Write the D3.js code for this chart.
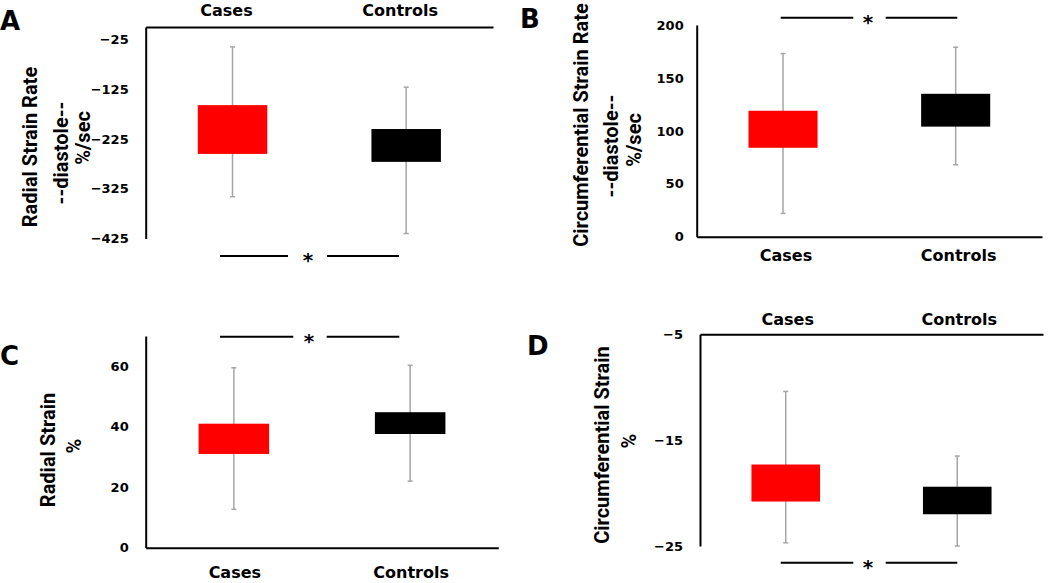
<!DOCTYPE html>
<html>
<head>
<meta charset="utf-8">
<script src="https://cdn.jsdelivr.net/npm/d3@7"></script>
<style>
    body { margin: 0; background: #fff; }
    svg { display: block; }
</style>
</head>
<body>
<div id="chart"></div>
<script>
const groups = ["Cases", "Controls"];

// A: radial strain rate, diastole (%/sec)
const radialRateBoxTop = [-157, -205];
const radialRateBoxBottom = [-255, -271];
const radialRateWhiskerTop = [-40, -121];
const radialRateWhiskerBottom = [-341, -415];
const radialRateTicks = [-25, -125, -225, -325, -425];

// B: circumferential strain rate, diastole (%/sec)
const circRateBoxTop = [119, 135];
const circRateBoxBottom = [84, 104];
const circRateWhiskerTop = [173, 179];
const circRateWhiskerBottom = [22, 68];
const circRateTicks = [0, 50, 100, 150, 200];

// C: radial strain (%)
const radialBoxTop = [41, 44.8];
const radialBoxBottom = [31, 37.6];
const radialWhiskerTop = [59.5, 60.3];
const radialWhiskerBottom = [12.7, 22];
const radialTicks = [0, 20, 40, 60];

// D: circumferential strain (%)
const circBoxTop = [-17.3, -19.4];
const circBoxBottom = [-20.8, -22.0];
const circWhiskerTop = [-10.4, -16.5];
const circWhiskerBottom = [-24.7, -25];
const circTicks = [-25, -15, -5];

const boxColors = ["#ff0000", "#000000"];
const horizFont = "'DejaVu Sans', sans-serif";
const titleFont = "Roboto, sans-serif";

const svg = d3.select("#chart")
    .append("svg")
    .attr("width", 1050)
    .attr("height", 583);

const panels = [
    {
        letter: "A", letterX: 0, letterY: 30,
        domain: [-425, 0], ticks: radialRateTicks,
        boxTop: radialRateBoxTop, boxBottom: radialRateBoxBottom,
        whiskerTop: radialRateWhiskerTop, whiskerBottom: radialRateWhiskerBottom,
        left: 145.7, right: 493, top: 27, bottom: 238.5,
        tickPad: 17, catAt: "top", catValue: 0, catPad: 11, catDx: -6,
        titles: [
            { text: "Radial Strain Rate", x: 37, y: 147 },
            { text: "--diastole--", x: 68, y: 153 },
            { text: "%/sec", x: 90, y: 138 }
        ],
        sig: { y: 256, x1: 220, x2: 288, x3: 327, x4: 399, ax: 308 }
    },
    {
        letter: "B", letterX: 520, letterY: 28,
        domain: [0, 200], ticks: circRateTicks,
        boxTop: circRateBoxTop, boxBottom: circRateBoxBottom,
        whiskerTop: circRateWhiskerTop, whiskerBottom: circRateWhiskerBottom,
        left: 696.7, right: 1042, top: 25, bottom: 236.7,
        tickPad: 13, catAt: "bottom", catValue: 0, catPad: 13, catDx: 3,
        titles: [
            { text: "Circumferential Strain Rate", x: 588, y: 125 },
            { text: "--diastole--", x: 618, y: 146 },
            { text: "%/sec", x: 641, y: 140 }
        ],
        sig: { y: 17.7, x1: 780.7, x2: 853.3, x3: 885.7, x4: 957.3, ax: 868 }
    },
    {
        letter: "C", letterX: 0, letterY: 365,
        domain: [0, 70], ticks: radialTicks,
        boxTop: radialBoxTop, boxBottom: radialBoxBottom,
        whiskerTop: radialWhiskerTop, whiskerBottom: radialWhiskerBottom,
        left: 145.7, right: 498.3, top: 336, bottom: 547.7,
        tickPad: 17, catAt: "bottom", catValue: 0, catPad: 19, catDx: 1,
        titles: [
            { text: "Radial Strain", x: 55, y: 450 },
            { text: "%", x: 81, y: 446 }
        ],
        sig: { y: 336.7, x1: 220, x2: 293.3, x3: 326.7, x4: 399.3, ax: 309 }
    },
    {
        letter: "D", letterX: 527, letterY: 355,
        domain: [-25, -5], ticks: circTicks,
        boxTop: circBoxTop, boxBottom: circBoxBottom,
        whiskerTop: circWhiskerTop, whiskerBottom: circWhiskerBottom,
        left: 700, right: 1043, top: 334.3, bottom: 546,
        tickPad: 17, catAt: "top", catValue: -5, catPad: 9, catDx: 2,
        titles: [
            { text: "Circumferential Strain", x: 609, y: 445 },
            { text: "%", x: 636, y: 441 }
        ],
        sig: { y: 562.7, x1: 780.7, x2: 853.3, x3: 885.7, x4: 957.3, ax: 868 }
    }
];

function drawPanel(p) {
    let g = svg.append("g");

    let x = d3.scaleBand()
        .domain(groups)
        .range([p.left, p.right])
        .paddingInner(0.6)
        .paddingOuter(0.3);
    let y = d3.scaleLinear()
        .domain(p.domain)
        .range([p.bottom, p.top]);
    let cx = d => x(d) + x.bandwidth() / 2;

    // whiskers sit behind the boxes
    let whiskers = g.append("g")
        .attr("stroke", "#a6a6a6")
        .attr("stroke-width", 1.5);
    whiskers.selectAll("line.stem")
        .data(groups)
        .join("line")
        .attr("class", "stem")
        .attr("x1", cx).attr("x2", cx)
        .attr("y1", (d, i) => y(p.whiskerTop[i]))
        .attr("y2", (d, i) => y(p.whiskerBottom[i]));
    whiskers.selectAll("line.capTop")
        .data(groups)
        .join("line")
        .attr("class", "capTop")
        .attr("x1", d => cx(d) - 2.5).attr("x2", d => cx(d) + 2.5)
        .attr("y1", (d, i) => y(p.whiskerTop[i]))
        .attr("y2", (d, i) => y(p.whiskerTop[i]));
    whiskers.selectAll("line.capBottom")
        .data(groups)
        .join("line")
        .attr("class", "capBottom")
        .attr("x1", d => cx(d) - 2.5).attr("x2", d => cx(d) + 2.5)
        .attr("y1", (d, i) => y(p.whiskerBottom[i]))
        .attr("y2", (d, i) => y(p.whiskerBottom[i]));

    g.selectAll("rect.box")
        .data(groups)
        .join("rect")
        .attr("class", "box")
        .attr("x", d => x(d))
        .attr("width", x.bandwidth())
        .attr("y", (d, i) => y(p.boxTop[i]))
        .attr("height", (d, i) => y(p.boxBottom[i]) - y(p.boxTop[i]))
        .attr("fill", (d, i) => boxColors[i]);

    // value axis
    let yAxis = d3.axisLeft(y)
        .tickValues(p.ticks)
        .tickSize(0)
        .tickSizeOuter(0)
        .tickPadding(p.tickPad);
    let yG = g.append("g")
        .attr("transform", `translate(${p.left},0)`)
        .call(yAxis);
    yG.select(".domain").attr("stroke", "#000").attr("stroke-width", 2);
    yG.selectAll("text")
        .attr("font-family", horizFont)
        .attr("font-weight", "bold")
        .attr("font-size", 13)
        .attr("fill", "#000");

    // category axis (top when values are negative)
    let catAxis = (p.catAt === "top" ? d3.axisTop(x) : d3.axisBottom(x))
        .tickSize(0)
        .tickSizeOuter(0)
        .tickPadding(p.catPad);
    let cG = g.append("g")
        .attr("transform", `translate(0,${y(p.catValue)})`)
        .call(catAxis);
    cG.select(".domain").attr("stroke", "#000").attr("stroke-width", 2);
    cG.selectAll("text")
        .attr("dx", p.catDx)
        .attr("font-family", horizFont)
        .attr("font-weight", "bold")
        .attr("font-size", 16)
        .attr("fill", "#000");

    // axis title, one text per line
    p.titles.forEach(function(t) {
        g.append("text")
            .attr("transform", `translate(${t.x},${t.y}) rotate(-90)`)
            .attr("text-anchor", "middle")
            .attr("font-family", titleFont)
            .attr("font-weight", 700)
            .attr("font-size", 20)
            .text(t.text);
    });

    // significance bar
    let s = p.sig;
    g.append("line")
        .attr("x1", s.x1).attr("x2", s.x2)
        .attr("y1", s.y).attr("y2", s.y)
        .attr("stroke", "#000").attr("stroke-width", 2);
    g.append("line")
        .attr("x1", s.x3).attr("x2", s.x4)
        .attr("y1", s.y).attr("y2", s.y)
        .attr("stroke", "#000").attr("stroke-width", 2);
    g.append("text")
        .attr("x", s.ax)
        .attr("y", s.y + 11)
        .attr("text-anchor", "middle")
        .attr("font-family", horizFont)
        .attr("font-weight", "bold")
        .attr("font-size", 20)
        .text("*");

    g.append("text")
        .attr("x", p.letterX)
        .attr("y", p.letterY)
        .attr("font-family", horizFont)
        .attr("font-weight", "bold")
        .attr("font-size", 26)
        .text(p.letter);
}

panels.forEach(drawPanel);
</script>
</body>
</html>
